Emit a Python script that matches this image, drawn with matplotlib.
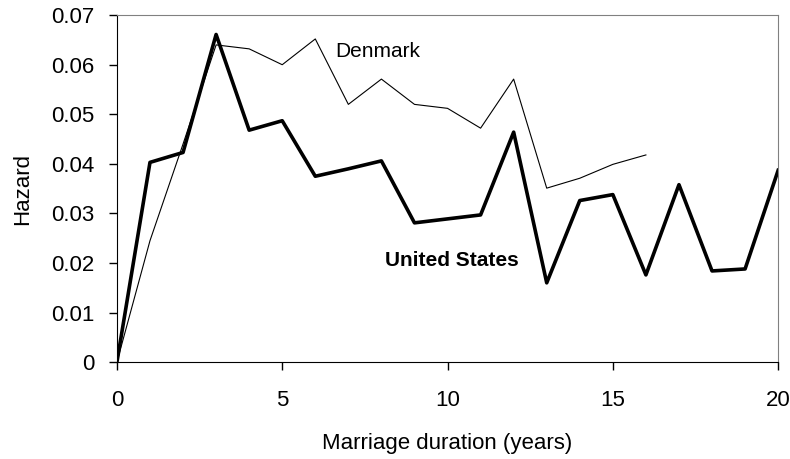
import matplotlib
matplotlib.use("Agg")
import matplotlib.pyplot as plt

plt.rcParams["font.family"] = ["Liberation Sans", "DejaVu Sans"]

years_us = list(range(21))
hazard_us = [0.0, 0.0403, 0.0423, 0.0661, 0.0468, 0.0487, 0.0375, 0.0390, 0.0406,
             0.0281, 0.0289, 0.0297, 0.0464, 0.0160, 0.0326, 0.0338, 0.0176,
             0.0358, 0.0184, 0.0188, 0.0387]

years_dk = list(range(17))
hazard_dk = [0.0, 0.0245, 0.0440, 0.0640, 0.0632, 0.0600, 0.0652, 0.0520, 0.0571,
             0.0520, 0.0512, 0.0472, 0.0571, 0.0351, 0.0371, 0.0399, 0.0418]

fig = plt.figure(figsize=(7.9, 4.59), dpi=100)
ax = fig.add_axes([0.148, 0.211, 0.837, 0.756])

ax.plot(years_dk, hazard_dk, color="black", lw=0.8)
ax.plot(years_us, hazard_us, color="black", lw=2.6)

ax.text(6.6, 0.0627, "Denmark", fontsize=15, va="center")
ax.text(8.1, 0.0206, "United States", fontsize=15, fontweight="bold", va="center")

ax.set_xlim(0, 20)
ax.set_ylim(0, 0.07)
ax.set_xticks([0, 5, 10, 15, 20])
ax.set_yticks([0, 0.01, 0.02, 0.03, 0.04, 0.05, 0.06, 0.07])
ax.set_yticklabels(["0", "0.01", "0.02", "0.03", "0.04", "0.05", "0.06", "0.07"])
ax.tick_params(labelsize=16, direction="out", length=6, width=1)
ax.tick_params(axis="x", pad=14)
ax.tick_params(axis="y", pad=10)

for s in ["top", "right"]:
    ax.spines[s].set_color("#808080")
for s in ["left", "bottom"]:
    ax.spines[s].set_color("black")

ax.set_xlabel("Marriage duration (years)", fontsize=16, labelpad=16)
ax.set_ylabel("Hazard", fontsize=16, labelpad=13)

fig.savefig("out.png", dpi=100)
